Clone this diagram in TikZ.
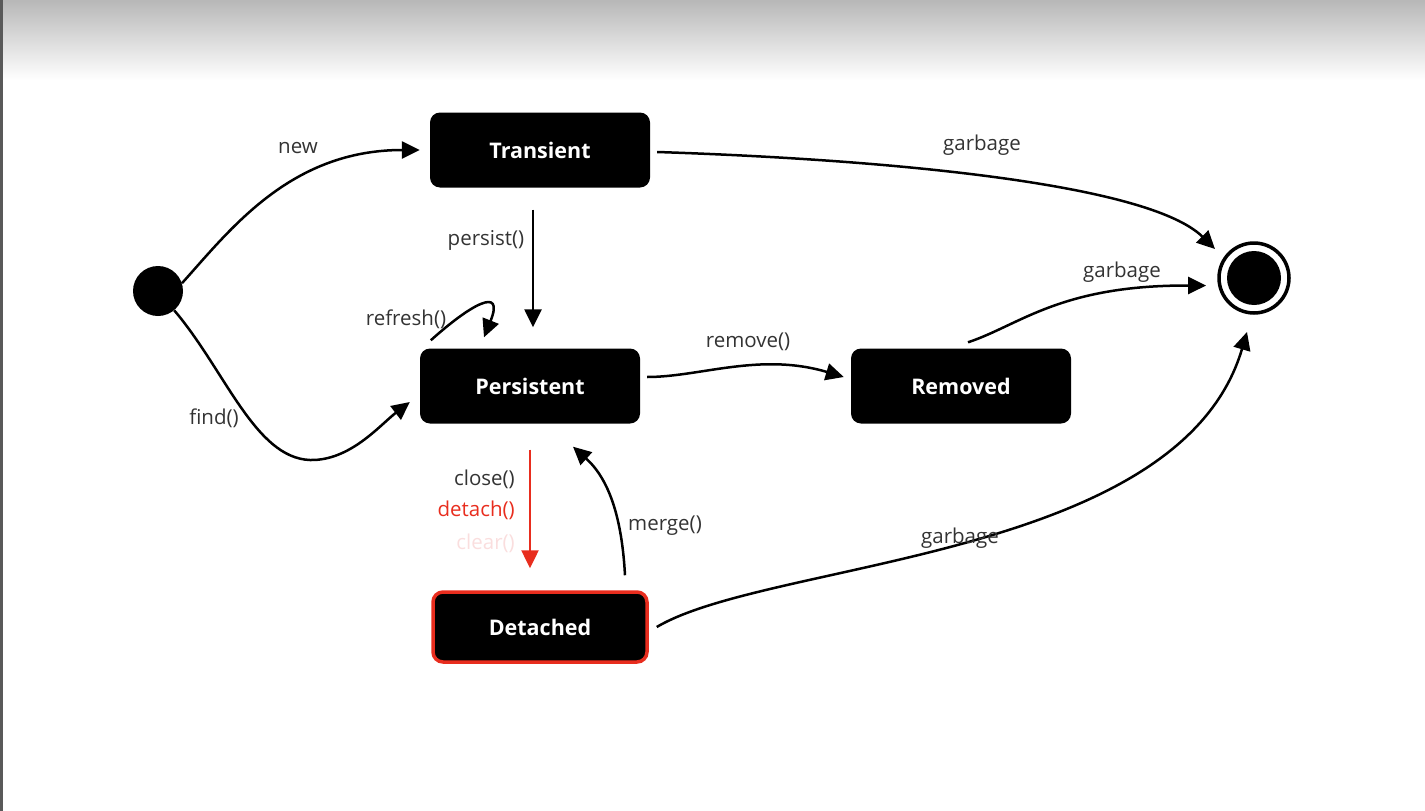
\documentclass[tikz,border=0pt]{standalone}
\usepackage{fontspec}
\setmainfont{Open Sans}
\usetikzlibrary{arrows.meta}

\definecolor{labelgray}{RGB}{51,51,51}
\definecolor{detachred}{RGB}{232,45,30}
\definecolor{clearpink}{RGB}{250,222,222}

\begin{document}
\begin{tikzpicture}[x=1pt,y=-1pt,
    state/.style={rectangle, rounded corners=10pt, fill=black, text=white,
      minimum width=220pt, minimum height=75pt,
      font=\fontsize{21.5}{26}\selectfont\bfseries},
    lbl/.style={text=labelgray, inner sep=0pt, font=\fontsize{20.5}{24}\selectfont},
    arr/.style={line width=2.5pt, -{Triangle[length=18pt,width=17pt]}}]
    % Frame: grey band on top, dark edge on the left
    \useasboundingbox (0,0) rectangle (1425,811);
    \shade[top color=black!28, bottom color=white] (0,0) rectangle (1425,80);
    \fill[black!65] (0,0) rectangle (2.5,811);

    % Start and end states
    \node[circle, fill=black, inner sep=0pt, minimum size=50pt] (init) at (158,291) {};
    \node[circle, draw=black, line width=3.5pt, inner sep=0pt, minimum size=70pt] (final) at (1254,278) {};
    \fill (final.center) circle (27pt);

    % Entity states
    \node[state] (transient) at (540,150) {Transient};
    \node[state] (persistent) at (530,386) {Persistent};
    \node[state] (removed) at (961,386) {Removed};
    \node[state, draw=detachred, line width=3.5pt, minimum width=214pt, minimum height=70pt] (detached) at (540,627) {Detached};

    % Transitions
    \draw[arr, shorten >=10pt] (init.18) .. controls (230,230) and (290,150) .. (transient.west);
    \draw[arr] (init.-50) .. controls (225,370) and (255,458) .. (310,460)
        .. controls (350,461) and (380,425) .. ([shift={(-10pt,-16pt)}]persistent.west);
    \draw[arr] ([xshift=-7pt,yshift=-22pt]transient.south) -- ([xshift=3pt,yshift=21pt]persistent.north);
    \draw[arr] ([shift={(11pt,8pt)}]persistent.north west) .. controls (470,305) and (505,285) .. ([shift={(-46pt,11pt)}]persistent.north);
    \draw[arr] ([shift={(7pt,9pt)}]persistent.east) .. controls (700,377) and (760,352) .. ([shift={(-7pt,9pt)}]removed.west);
    \draw[arr, shorten >=12pt] ([shift={(7pt,-2pt)}]transient.east) .. controls (900,160) and (1150,185) .. (final.146);
    \draw[arr, shorten >=12pt] ([shift={(7pt,6pt)}]removed.north) .. controls (1020,325) and (1060,285) .. (final.192);
    \draw[arr, shorten >=18pt] ([xshift=8pt]detached.east) .. controls (770,560) and (1180,560) .. (final.267);
    \draw[arr, detachred] ([yshift=-26pt]persistent.south) -- ([xshift=-10pt,yshift=22pt]detached.north);
    \draw[arr] ([shift={(85pt,15pt)}]detached.north) .. controls (622,520) and (610,480) .. ([shift={(43pt,-23pt)}]persistent.south);

    % Labels
    \node[lbl] (lnew) at (298,148) {new};
    \node[lbl] (lfind) at (214,418) {find()};
    \node[lbl] (lpersist) at (486,240) {persist()};
    \node[lbl] (lrefresh) at (406,319) {refresh()};
    \node[lbl] (lremove) at (748,342) {remove()};
    \node[lbl] (lgarbage1) at (982,145) {garbage};
    \node[lbl] (lgarbage2) at (1122,272) {garbage};
    \node[lbl] (lgarbage3) at (960,538) {garbage};
    \node[lbl, anchor=east] (lclose) at (515,479) {close()};
    \node[lbl, anchor=east, text=detachred] (ldetach) at (515,510) {detach()};
    \node[lbl, anchor=east, text=clearpink] (lclear) at (515,543) {clear()};
    \node[lbl] (lmerge) at (665,526) {merge()};
\end{tikzpicture}
\end{document}
